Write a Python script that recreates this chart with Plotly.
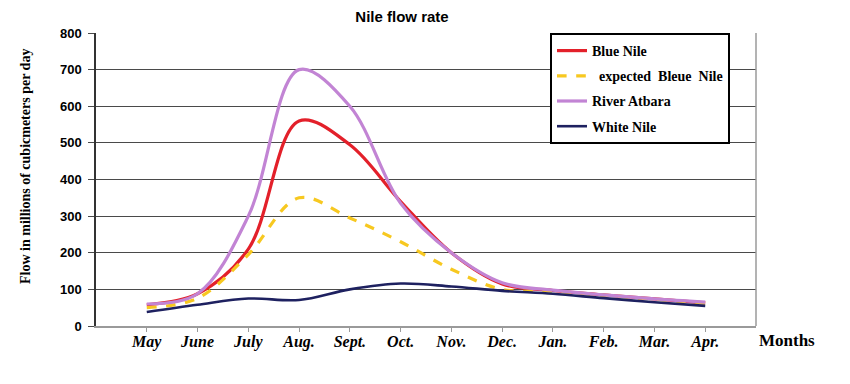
import plotly.graph_objects as go

months = ["May", "June", "July", "Aug.", "Sept.", "Oct.", "Nov.", "Dec.", "Jan.", "Feb.", "Mar.", "Apr."]
blue_nile = [58, 88, 210, 560, 495, 340, 200, 115, 97, 85, 74, 63]
expected_blue_nile = [50, 76, 195, 350, 295, 230, 155, 100, 95, 84, 73, 62]
river_atbara = [60, 88, 300, 700, 600, 335, 200, 118, 98, 85, 74, 65]
white_nile = [38, 58, 75, 71, 100, 116, 108, 96, 88, 76, 65, 55]
y_ticks = [0, 100, 200, 300, 400, 500, 600, 700, 800]

serif = "Liberation Serif, Times New Roman, serif"
sans = "Liberation Sans, Arial, sans-serif"

# page body has an 8px default margin, so the figure is offset by (8, 8)
W, H = 842, 376
L, T, R, B = 88, 25, 94, 58

fig = go.Figure()
series = [
    ("Blue Nile", blue_nile, "#E3202A", "solid", 3.2),
    ("  expected  Bleue  Nile", expected_blue_nile, "#F7C820", "dash", 3.2),
    ("River Atbara", river_atbara, "#C284D4", "solid", 3.2),
    ("White Nile", white_nile, "#1E2160", "solid", 2.6),
]
for i, (name, vals, col, dash, w) in enumerate(series):
    fig.add_trace(go.Scatter(
        x=months, y=vals, name=name, mode="lines",
        line=dict(color=col, width=w, dash=dash, shape="spline", smoothing=1.0),
        legendgroup=f"g{i}",
    ))

pw = W - L - R
ph = H - T - B

fig.update_layout(
    width=W, height=H,
    margin=dict(l=L, r=R, t=T, b=B),
    plot_bgcolor="white", paper_bgcolor="white",
    title=dict(text="<b>Nile flow rate</b>", x=(402 - 96) / pw, xref="paper", xanchor="center",
               y=1 - 8.5 / H, yref="container", yanchor="middle",
               font=dict(family=sans, size=15, color="black")),
    showlegend=True,
    legend=dict(x=(550 - 96) / pw, y=1.0, xanchor="left", yanchor="top",
                bgcolor="white", bordercolor="black", borderwidth=2,
                font=dict(family=serif, size=14, color="black", weight="bold"),
                traceorder="grouped", tracegroupgap=4, itemwidth=30),
    xaxis=dict(
        type="category", categoryorder="array", categoryarray=months,
        range=[-1, 12], showgrid=False, showline=True, linecolor="#9a9a9a", linewidth=1.5,
        ticks="outside", ticklen=4, tickcolor="#9a9a9a", ticklabelstandoff=-4,
        tickfont=dict(family=serif, size=16, color="black", weight="bold", style="italic"),
        zeroline=False, fixedrange=True,
    ),
    yaxis=dict(
        range=[0, 800], tickvals=y_ticks, showgrid=True, gridcolor="#4a4a4a", gridwidth=1.3,
        showline=True, linecolor="#333333", linewidth=1.5,
        ticks="outside", ticklen=6, tickcolor="#4a4a4a", ticklabelstandoff=4,
        tickfont=dict(family=sans, size=13, color="black", weight="bold"),
        zeroline=False, fixedrange=True,
    ),
    annotations=[
        dict(text="Months", xref="paper", yref="paper", x=(787 - 96) / pw, y=-14 / ph,
             xanchor="center", yanchor="middle", showarrow=False,
             font=dict(family=serif, size=17, color="black", weight="bold")),
        dict(text="Flow in millions of cubicmeters per day", xref="paper", yref="paper",
             x=(25 - 96) / pw, y=(326 - 167) / ph, xanchor="center", yanchor="middle",
             textangle=-90, showarrow=False,
             font=dict(family=serif, size=14, color="black", weight="bold")),
    ],
    shapes=[
        dict(type="line", xref="paper", yref="paper", x0=1, x1=1, y0=0, y1=1,
             line=dict(color="#9a9a9a", width=1.5)),
    ],
)

fig.write_html("out.html")
